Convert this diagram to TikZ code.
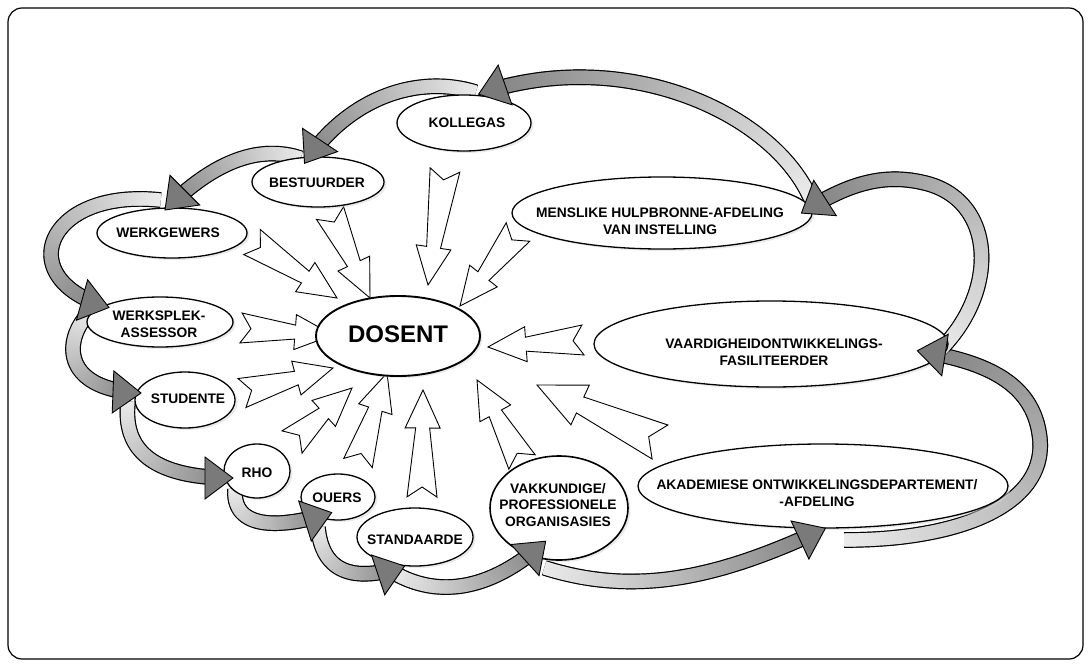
\documentclass[tikz,border=0pt]{standalone}
\usepackage{fontspec}
\setmainfont{Liberation Sans}
\usetikzlibrary{shapes.geometric,decorations.markings,shadows,calc}

\tikzset{
  oval/.style={ellipse, draw, line width=1.3pt, fill=white, inner sep=0pt,
    drop shadow={shadow xshift=2.5pt, shadow yshift=-2pt, fill=black!16}},
  lbl/.style={font=\fontsize{13.8}{16.5}\selectfont\bfseries, align=center, inner sep=0pt},
  openarrow/.style={draw, fill=white, line width=0.9pt, line join=miter},
  % ribbon body: black rim, then a grey fill that darkens towards the head
  bandbody/.style={
    postaction={decorate, decoration={markings,
      mark=between positions 0 and -24pt step 1pt with {
        \fill[black] (-0.8pt,-7.8pt) rectangle (0.8pt,7.8pt);}}},
    postaction={decorate, decoration={markings,
      mark=between positions 0 and -24pt step 1pt with {
        \pgfmathsetmacro\bandshade{8+42*\pgfkeysvalueof{/pgf/decoration/mark info/distance from start}/\pgfdecoratedpathlength}
        \fill[black!\bandshade] (-0.8pt,-6.6pt) rectangle (0.8pt,6.6pt);}}}},
  bandhead/.style={
    postaction={decorate, decoration={markings,
      mark=at position 0.9999 with {
        \filldraw[fill=black!52, draw=black, line width=0.9pt, line join=miter]
          (0pt,0pt) -- (-28pt,21pt) -- (-28pt,-21pt) -- cycle;}}}}
}

% open block arrow with a notched tail, from #2 (tail) to #3 (tip); #1 scales the head
\newcommand\shootarrow[3][1]{%
  \path let \p1=(#2), \p2=(#3) in
    \pgfextra{%
      \pgfmathsetmacro\arrang{atan2(\y2-\y1,\x2-\x1)}%
      \pgfmathsetmacro\arrL{veclen(\x2-\x1,\y2-\y1)}%
      \xdef\arrang{\arrang}\xdef\arrL{\arrL}%
      \xdef\arrx{\x1}\xdef\arry{\y1}};
  \begin{scope}[shift={(\arrx,\arry)}, rotate=\arrang]
    \pgfmathsetmacro\hl{38*#1}\pgfmathsetmacro\hw{17.5*#1}%
    \pgfmathsetmacro\swa{7*#1}\pgfmathsetmacro\swb{15*#1}%
    \pgfmathsetmacro\nd{10*#1}\pgfmathsetmacro\hb{\arrL-\hl}%
    \filldraw[openarrow] (\nd pt,0pt) -- (0pt,\swb pt) -- (\hb pt,\swa pt)
      -- (\hb pt,\hw pt) -- (\arrL pt,0pt) -- (\hb pt,-\hw pt)
      -- (\hb pt,-\swa pt) -- (0pt,-\swb pt) -- cycle;
  \end{scope}}

\begin{document}
\begin{tikzpicture}[x=1pt,y=-1pt]
\useasboundingbox (0,0) rectangle (1091,666);
\draw[line width=1.2pt, rounded corners=14pt] (8,8) rectangle (1083,659);

% ---- open arrows converging on the lecturer ----
\coordinate (a1s) at (252,242); \coordinate (a1t) at (337,298);
\coordinate (a2s) at (330,213); \coordinate (a2t) at (370,298);
\coordinate (a3s) at (445,170); \coordinate (a3t) at (428,285);
\coordinate (a4s) at (518,232); \coordinate (a4t) at (460,306);
\coordinate (a5s) at (583,340); \coordinate (a5t) at (488,347);
\coordinate (a6s) at (660,442); \coordinate (a6t) at (537,385);
\coordinate (a7s) at (522,462); \coordinate (a7t) at (477,380);
\coordinate (a8s) at (422,497); \coordinate (a8t) at (423,390);
\coordinate (a9s) at (358,463); \coordinate (a9t) at (387,373);
\coordinate (a10s) at (292,442); \coordinate (a10t) at (352,388);
\coordinate (a11s) at (242,393); \coordinate (a11t) at (333,368);
\coordinate (a12s) at (241,328); \coordinate (a12t) at (333,335);
\shootarrow{a1s}{a1t}
\shootarrow{a2s}{a2t}
\shootarrow{a3s}{a3t}
\shootarrow{a4s}{a4t}
\shootarrow{a5s}{a5t}
\shootarrow[1.25]{a6s}{a6t}
\shootarrow{a7s}{a7t}
\shootarrow{a8s}{a8t}
\shootarrow{a9s}{a9t}
\shootarrow{a10s}{a10t}
\shootarrow{a11s}{a11t}
\shootarrow{a12s}{a12t}

% ---- ribbon arrows running round the outer ring ----
\coordinate (b1s) at (810,197);  \coordinate (b1t) at (478.6,94.2);
\coordinate (b2s) at (475,92);   \coordinate (b2t) at (304.5,163.3);
\coordinate (b3s) at (300,158);  \coordinate (b3t) at (165,210);
\coordinate (b4s) at (160,200);  \coordinate (b4t) at (109,307.5);
\coordinate (b5s) at (90,312);   \coordinate (b5t) at (141,393);
\coordinate (b6s) at (128,402);  \coordinate (b6t) at (233,478);
\coordinate (b7s) at (235,490);  \coordinate (b7t) at (331.7,512.6);
\coordinate (b8s) at (318,528);  \coordinate (b8t) at (404.6,566);
\coordinate (b9s) at (396,574);  \coordinate (b9t) at (545.7,541.2);
\coordinate (b10s) at (545,568); \coordinate (b10t) at (825.4,528.2);
\coordinate (b11s) at (845,540); \coordinate (b11t) at (917.3,350.7);
\coordinate (b12s) at (940,350); \coordinate (b12t) at (801.4,213.1);

\def\bandA{(b1s) .. controls (770,110) and (620,45) .. (b1t)}
\def\bandB{(b2s) .. controls (420,75) and (350,95) .. (b2t)}
\def\bandC{(b3s) .. controls (260,145) and (215,160) .. (b3t)}
\def\bandD{(b4s) .. controls (45,188) and (10,280) .. (b4t)}
\def\bandE{(b5s) .. controls (62,340) and (62,390) .. (b5t)}
\def\bandF{(b6s) .. controls (122,455) and (160,478) .. (b6t)}
\def\bandG{(b7s) .. controls (233,525) and (270,532) .. (b7t)}
\def\bandH{(b8s) .. controls (322,568) and (348,585) .. (b8t)}
\def\bandI{(b9s) .. controls (440,598) and (492,590) .. (b9t)}
\def\bandJ{(b10s) .. controls (640,598) and (725,575) .. (b10t)}
\def\bandK{(b11s) .. controls (960,540) and (1045,505) .. (1040,440)
           .. controls (1035,385) and (990,362) .. (b11t)}
\def\bandL{(b12s) .. controls (1000,290) and (995,200) .. (925,183)
           .. controls (885,173.3) and (850,182) .. (b12t)}

\path[bandbody] \bandA;
\path[bandbody] \bandB;
\path[bandbody] \bandC;
\path[bandbody] \bandD;
\path[bandbody] \bandE;
\path[bandbody] \bandF;
\path[bandbody] \bandG;
\path[bandbody] \bandH;
\path[bandbody] \bandI;
\path[bandbody] \bandJ;
\path[bandbody] \bandK;
\path[bandbody] \bandL;

% ---- the role ellipses ----
\node[oval, line width=1.9pt, minimum width=164pt, minimum height=80pt] (dos) at (398,336) {};
\node[oval, minimum width=134pt, minimum height=56pt] (kol) at (464,123) {};
\node[oval, minimum width=132pt, minimum height=50pt] (best) at (318,182) {};
\node[oval, minimum width=150pt, minimum height=50pt] (werkg) at (172,233) {};
\node[oval, minimum width=146pt, minimum height=50pt] (werks) at (160,322) {};
\node[oval, minimum width=100pt, minimum height=56pt] (stud) at (185,400) {};
\node[oval, minimum width=66pt, minimum height=54pt] (rho) at (257,471) {};
\node[oval, minimum width=74pt, minimum height=46pt] (ouers) at (338,497) {};
\node[oval, minimum width=116pt, minimum height=58pt] (stand) at (415,537) {};
\node[oval, line width=1.6pt, minimum width=138pt, minimum height=104pt] (vak) at (559,508) {};
\node[oval, minimum width=370pt, minimum height=84pt] (akad) at (823,486) {};
\node[oval, minimum width=354pt, minimum height=86pt] (vaar) at (771,344) {};
\node[oval, minimum width=300pt, minimum height=72pt] (mens) at (662,213) {};

\node[font=\fontsize{24}{28}\selectfont\bfseries, inner sep=0pt] (dosT) at (398,334) {DOSENT};
\node[lbl] (kolT) at (467,123) {KOLLEGAS};
\node[lbl] (bestT) at (317,183) {BESTUURDER};
\node[lbl] (werkgT) at (168,233) {WERKGEWERS};
\node[lbl] (werksT) at (159,324) {WERKSPLEK-\\ASSESSOR};
\node[lbl] (studT) at (188,399) {STUDENTE};
\node[lbl] (rhoT) at (257,473) {RHO};
\node[lbl] (ouersT) at (337,498) {OUERS};
\node[lbl] (standT) at (415,540) {STANDAARDE};
\node[lbl] (vakT) at (558,505) {VAKKUNDIGE/\\PROFESSIONELE\\ORGANISASIES};
\node[lbl] (akadT) at (817,493) {AKADEMIESE ONTWIKKELINGSDEPARTEMENT/\\-AFDELING};
\node[lbl] (vaarT) at (774,352) {VAARDIGHEIDONTWIKKELINGS-\\FASILITEERDER};
\node[lbl] (mensT) at (660,221) {MENSLIKE HULPBRONNE-AFDELING\\VAN INSTELLING};

% ---- ribbon heads on top ----
\path[bandhead] \bandA;
\path[bandhead] \bandB;
\path[bandhead] \bandC;
\path[bandhead] \bandD;
\path[bandhead] \bandE;
\path[bandhead] \bandF;
\path[bandhead] \bandG;
\path[bandhead] \bandH;
\path[bandhead] \bandI;
\path[bandhead] \bandJ;
\path[bandhead] \bandK;
\path[bandhead] \bandL;
\end{tikzpicture}
\end{document}
